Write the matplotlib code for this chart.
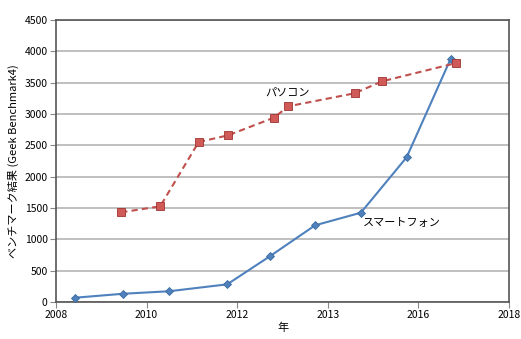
import matplotlib
matplotlib.use("Agg")
import matplotlib.pyplot as plt

plt.rcParams['font.family'] = ['Noto Sans CJK JP', 'DejaVu Sans']

# ── data ─────────────────────────────────────────────────────────────────────
phone_x = [2008.43, 2009.49, 2010.49, 2011.78, 2012.73, 2013.72, 2014.73, 2015.74, 2016.71]
phone_y = [69, 132, 171, 282, 734, 1224, 1425, 2309, 3878]

pc_x = [2009.44, 2010.30, 2011.15, 2011.80, 2012.81, 2013.13, 2014.59, 2015.20, 2016.84]
pc_y = [1431, 1527, 2553, 2660, 2941, 3123, 3330, 3522, 3814]

x_ticks = [2008, 2010, 2012, 2014, 2016, 2018]
x_tick_labels = ["2008", "2010", "2012", "2013", "2016", "2018"]
y_ticks = list(range(0, 4501, 500))

BLUE = "#4F81BD"
RED = "#C0504D"

fig = plt.figure(figsize=(5.21, 3.39), dpi=100)
ax = fig.add_axes([56 / 521, 37 / 339, 453 / 521, 282 / 339])

ax.plot(phone_x, phone_y, color=BLUE, lw=1.5, marker="D", ms=4.5,
        markerfacecolor=BLUE, markeredgecolor="#3A6A9E", markeredgewidth=0.6, zorder=3)
ax.plot(pc_x, pc_y, color=RED, lw=1.5, ls=(0, (3, 2)), marker="s", ms=6,
        markerfacecolor="#D05A57", markeredgecolor="#9E3330", markeredgewidth=0.6, zorder=3)

ax.text(2013.11, 3335, "パソコン", fontsize=8, ha="center", va="center")
ax.text(2015.64, 1261, "スマートフォン", fontsize=8, ha="center", va="center")

ax.set_xlim(2008, 2018)
ax.set_ylim(0, 4500)
ax.set_xticks(x_ticks)
ax.set_xticklabels(x_tick_labels)
ax.set_yticks(y_ticks)
ax.tick_params(labelsize=7.5, length=4, color="#888888", pad=2)
ax.yaxis.grid(True, color="#b4b4b4", lw=1.2)
ax.set_axisbelow(True)
for s in ax.spines.values():
    s.set_color("#555555")
    s.set_linewidth(1.2)

ax.set_xlabel("年", fontsize=8, labelpad=2)
ax.set_ylabel("ベンチマーク結果 (Geek Benchmark4)", fontsize=8, labelpad=4)

fig.savefig("out.png", dpi=100)
